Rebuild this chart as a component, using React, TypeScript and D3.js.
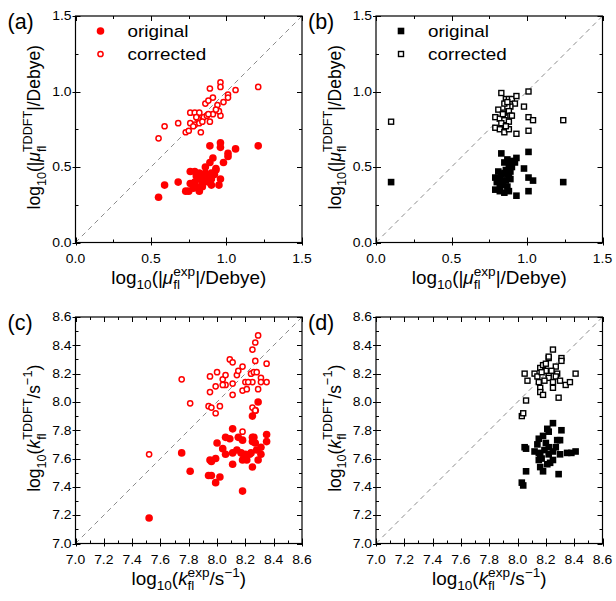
import React from "react";
import * as d3 from "d3";

// ---------- data ----------
// panel (a): transition dipole, circles
const aOrigX = [0.55,0.59,0.68,0.73,0.75,0.76,0.79,0.76,0.79,0.78,0.80,0.82,0.82,0.85,0.87,0.90,0.82,0.86,0.90,0.93,0.89,0.91,0.86,0.89,0.96,0.96,0.93,0.98,1.01,1.01,1.06,1.21,0.96,0.90,0.95,0.84,0.88,0.92,0.80,0.84];
const aOrigY = [0.30,0.38,0.40,0.34,0.34,0.47,0.47,0.39,0.40,0.36,0.37,0.34,0.42,0.43,0.44,0.42,0.46,0.46,0.46,0.48,0.64,0.56,0.50,0.53,0.66,0.63,0.49,0.53,0.59,0.57,0.62,0.64,0.42,0.38,0.38,0.39,0.40,0.45,0.44,0.37];
const aCorrX = [0.55,0.59,0.68,0.73,0.75,0.79,0.76,0.76,0.79,0.82,0.83,0.85,0.87,0.89,0.91,0.86,0.88,0.91,0.94,0.96,0.95,0.89,0.96,0.96,1.01,1.01,0.98,1.06,1.21,0.81,0.82,0.78,0.84,0.88,0.80,0.93];
const aCorrY = [0.69,0.77,0.79,0.73,0.74,0.78,0.79,0.86,0.86,0.86,0.73,0.83,0.84,0.80,0.85,0.92,0.94,0.96,0.91,0.84,0.87,1.02,1.06,1.03,0.98,0.96,0.93,1.01,1.03,0.82,0.79,0.77,0.80,0.85,0.83,0.88];

// panel (b): transition dipole, squares
const bOrigX = [0.10,1.24,0.83,1.01,0.93,0.90,0.87,0.85,0.88,0.92,0.98,0.81,0.85,0.87,0.89,0.79,0.82,0.86,0.89,1.01,1.04,0.79,0.82,0.85,0.88,0.93,1.01,0.80,0.84,0.87,0.83,0.90,0.86,0.82,0.88];
const bOrigY = [0.40,0.40,0.59,0.60,0.56,0.54,0.55,0.53,0.52,0.53,0.49,0.47,0.46,0.45,0.47,0.43,0.42,0.41,0.42,0.43,0.41,0.35,0.34,0.33,0.34,0.31,0.34,0.40,0.38,0.37,0.45,0.50,0.48,0.37,0.44];
const bCorrX = [0.10,1.24,0.83,1.01,0.86,0.88,0.90,0.93,0.92,0.89,0.87,0.85,0.98,0.81,0.85,0.88,0.89,0.79,0.82,0.85,0.88,0.90,1.01,1.04,0.79,0.82,0.85,0.88,0.93,1.01,0.83,0.86,0.84,0.87];
const bCorrY = [0.80,0.81,0.99,1.00,0.95,0.95,0.95,0.97,0.92,0.90,0.90,0.92,0.90,0.88,0.86,0.87,0.84,0.83,0.82,0.81,0.80,0.84,0.83,0.81,0.76,0.75,0.73,0.75,0.72,0.74,0.79,0.77,0.85,0.93];

// panel (c): fluorescence rate, circles
const cOrigX = [7.52,7.75,7.81,7.94,7.96,7.99,8.02,7.95,7.96,7.99,8.00,8.04,8.06,8.09,8.11,8.06,8.11,8.14,8.11,8.15,8.18,8.18,8.18,8.20,8.21,8.24,8.25,8.25,8.26,8.27,8.25,8.29,8.31,8.31,8.35,8.35,8.25,8.27,8.29,8.17,8.19,8.23,8.28];
const cOrigY = [7.18,7.64,7.51,7.48,7.48,7.43,7.47,7.59,7.58,7.60,7.71,7.67,7.75,7.74,7.81,7.63,7.64,7.66,7.56,7.75,7.73,7.37,7.59,7.63,7.59,7.64,7.54,7.75,7.75,7.71,7.72,7.59,7.63,7.68,7.77,7.72,7.90,7.94,8.00,7.64,7.61,7.63,7.66];
const cCorrX = [7.52,7.75,7.81,7.94,7.96,7.99,8.02,7.95,7.99,7.95,8.00,8.04,8.06,8.04,8.06,8.11,8.09,8.11,8.11,8.14,8.15,8.18,8.18,8.21,8.20,8.18,8.24,8.25,8.26,8.28,8.27,8.25,8.27,8.29,8.31,8.31,8.29,8.35,8.35,8.25,8.27,8.22];
const cCorrY = [7.63,8.16,7.99,7.97,7.96,7.92,7.97,8.07,8.11,8.18,8.21,8.16,8.12,8.12,8.19,8.13,8.30,8.28,8.05,8.19,8.22,8.25,8.08,8.09,8.14,7.79,8.20,8.14,8.21,8.21,8.29,8.37,8.42,8.47,8.17,8.14,8.09,8.27,8.14,7.96,7.94,8.14];

// panel (d): fluorescence rate, squares
const dOrigX = [8.03,8.04,8.06,8.05,8.06,8.12,8.15,8.15,8.15,8.16,8.18,8.18,8.21,8.22,8.25,8.22,8.22,8.25,8.25,8.23,8.27,8.28,8.30,8.31,8.29,8.30,8.35,8.38,8.41,8.17,8.19,8.14,8.20,8.16,8.21];
const dOrigY = [7.43,7.41,7.51,7.68,7.67,7.65,7.74,7.64,7.59,7.54,7.51,7.76,7.81,7.79,7.85,7.68,7.63,7.59,7.65,7.57,7.68,7.73,7.73,7.80,7.49,7.63,7.64,7.64,7.65,7.60,7.66,7.70,7.71,7.62,7.56];
const dCorrX = [8.03,8.04,8.06,8.05,8.07,8.12,8.14,8.15,8.16,8.16,8.18,8.16,8.18,8.20,8.22,8.22,8.25,8.22,8.22,8.25,8.25,8.27,8.28,8.27,8.30,8.29,8.31,8.31,8.34,8.37,8.41,8.19,8.20,8.17,8.24];
const dCorrY = [7.90,7.92,8.01,8.20,8.15,8.20,8.18,8.14,8.10,8.07,8.05,8.24,8.26,8.27,8.31,8.32,8.37,8.20,8.17,8.14,8.10,8.25,8.20,8.18,8.15,8.03,8.31,8.29,8.12,8.14,8.20,8.15,8.22,8.21,8.22];

const muTicks = [0.0, 0.5, 1.0, 1.5];
const kTicks = [7.0, 7.2, 7.4, 7.6, 7.8, 8.0, 8.2, 8.4, 8.6];
const legendLabels = ["original", "corrected"];
const panelLabels = ["(a)", "(b)", "(c)", "(d)"];

// ---------- style ----------
const FONT = "'Liberation Sans', Arial, Helvetica, sans-serif";
const TICK_K = 1.16;

type Series = { x: number[]; y: number[] };

function zip(s: Series) {
  return s.x.map((v, i) => [v, s.y[i]] as [number, number]);
}

function Title({ kind, axis, size }: { kind: "mu" | "k"; axis: "x" | "y"; size: number }) {
  const s = size * 0.72;
  const sub = size * 0.3;
  const sup = size * 0.45;
  const flW = s * 0.5; // width of "fl" in Arial
  const sp = axis === "x" ? "exp" : "TDDFT";
  if (kind === "mu") {
    return (
      <>
        <tspan>log</tspan>
        <tspan fontSize={s} dy={sub}>10</tspan>
        <tspan dy={-sub}>(|</tspan>
        <tspan fontStyle="italic">μ</tspan>
        <tspan fontSize={s} dy={sub}>fl</tspan>
        <tspan fontSize={s} dx={-flW} dy={-sub - sup}>{sp}</tspan>
        <tspan dy={sup}>|/Debye)</tspan>
      </>
    );
  }
  return (
    <>
      <tspan>log</tspan>
      <tspan fontSize={s} dy={sub}>10</tspan>
      <tspan dy={-sub}>(</tspan>
      <tspan fontStyle="italic">k</tspan>
      <tspan fontSize={s} dy={sub}>fl</tspan>
      <tspan fontSize={s} dx={-flW} dy={-sub - sup}>{sp}</tspan>
      <tspan dy={sup}>/s</tspan>
      <tspan fontSize={s} dy={-sup}>−1</tspan>
      <tspan dy={sup}>)</tspan>
    </>
  );
}

type PanelProps = {
  left: number;
  top: number;
  size: number;
  domain: [number, number];
  majors: number[];
  minorStep: number;
  orig: Series;
  corr: Series;
  marker: "circle" | "square";
  color: string;
  kind: "mu" | "k";
  label: string;
  showLegend: boolean;
  yTitleX: number;
  fmt: (v: number) => string;
};

function Panel(p: PanelProps) {
  const x = d3.scaleLinear().domain(p.domain).range([p.left, p.left + p.size]);
  const y = d3.scaleLinear().domain(p.domain).range([p.top + p.size, p.top]);
  const [d0, d1] = p.domain;
  const nMinor = Math.round((d1 - d0) / p.minorStep);
  const minors = d3.range(nMinor + 1).map((i) => d0 + i * p.minorStep);
  const isMajor = (v: number) => p.majors.some((m) => Math.abs(m - v) < 1e-6);
  const L = p.left, R = p.left + p.size, T = p.top, B = p.top + p.size;
  const clipId = "clip" + p.label.replace(/[()]/g, "");

  const mk = (pt: [number, number], i: number, filled: boolean) => {
    const cx = x(pt[0]), cy = y(pt[1]);
    if (p.marker === "circle") {
      return filled ? (
        <circle key={i} cx={cx} cy={cy} r={3.8} fill={p.color} />
      ) : (
        <circle key={i} cx={cx} cy={cy} r={2.6} fill="#fff" stroke={p.color} strokeWidth={1.5} />
      );
    }
    return filled ? (
      <rect key={i} x={cx - 3.3} y={cy - 3.3} width={6.6} height={6.6} fill={p.color} />
    ) : (
      <rect key={i} x={cx - 2.5} y={cy - 2.5} width={5} height={5} fill="#fff" stroke={p.color} strokeWidth={1.4} />
    );
  };

  const legendMarker = (cx: number, cy: number, filled: boolean) =>
    mk([x.invert(cx), y.invert(cy)], filled ? 0 : 1, filled);

  const centerX = (L + R) / 2;
  const centerY = (T + B) / 2;

  return (
    <g>
      <defs>
        <clipPath id={clipId}>
          <rect x={L} y={T} width={p.size} height={p.size} />
        </clipPath>
      </defs>
      {/* diagonal */}
      <line
        x1={x(d0)} y1={y(d0)} x2={x(d1)} y2={y(d1)}
        stroke="#8c8c8c" strokeWidth={1} strokeDasharray="5,4"
        clipPath={`url(#${clipId})`}
      />
      {/* points */}
      <g>{zip(p.orig).map((pt, i) => mk(pt, i, true))}</g>
      <g>{zip(p.corr).map((pt, i) => mk(pt, i, false))}</g>
      {/* ticks */}
      <g stroke="#000" strokeWidth={1}>
        {minors.map((v, i) => {
          const maj = isMajor(v);
          const len = maj ? 5 : 3;
          const out = maj ? 3 : 0;
          const xv = Math.round(x(v)) + 0.5, yv = Math.round(y(v)) + 0.5;
          return (
            <g key={i}>
              <line x1={xv} x2={xv} y1={B + out} y2={B - len} />
              <line x1={xv} x2={xv} y1={T} y2={T + len} />
              <line y1={yv} y2={yv} x1={L - out} x2={L + len} />
              <line y1={yv} y2={yv} x1={R} x2={R - len} />
            </g>
          );
        })}
      </g>
      <rect x={L} y={T} width={p.size} height={p.size} fill="none" stroke="#000" strokeWidth={1.2} />
      {/* tick labels */}
      <g fontFamily={FONT} fontSize={12} fill="#000">
        {p.majors.map((v, i) => (
          <text key={"x" + i} transform={`translate(${x(v)},${B + 20}) scale(${TICK_K},1)`} textAnchor="middle">
            {p.fmt(v)}
          </text>
        ))}
        {p.majors.map((v, i) => (
          <text key={"y" + i} transform={`translate(${L - 4},${y(v) + 4.3}) scale(${TICK_K},1)`} textAnchor="end">
            {p.fmt(v)}
          </text>
        ))}
      </g>
      {/* axis titles */}
      <text
        transform={`translate(${centerX},${B + 41}) scale(1.08,1)`}
        textAnchor="middle" fontFamily={FONT} fontSize={17.5} fill="#000"
      >
        <Title kind={p.kind} axis="x" size={17.5} />
      </text>
      <text
        transform={`translate(${p.yTitleX},${centerY - 2}) scale(1.08,1) rotate(-90)`}
        textAnchor="middle" fontFamily={FONT} fontSize={17.5} fill="#000"
      >
        <Title kind={p.kind} axis="y" size={17.5} />
      </text>
      {/* panel label */}
      <text x={L - 68} y={T + 12.5} fontFamily={FONT} fontSize={21.5} fill="#000">
        {p.label}
      </text>
      {/* legend */}
      {p.showLegend && (
        <g>
          {legendMarker(L + 25, T + 15, true)}
          {legendMarker(L + 25, T + 38, false)}
          <text transform={`translate(${L + 52},${T + 21}) scale(1.18,1)`} fontFamily={FONT} fontSize={16} fill="#000">
            {legendLabels[0]}
          </text>
          <text transform={`translate(${L + 52},${T + 44}) scale(1.18,1)`} fontFamily={FONT} fontSize={16} fill="#000">
            {legendLabels[1]}
          </text>
        </g>
      )}
    </g>
  );
}

export default function App() {
  const fmt = d3.format(".1f");
  const red = "#ff0000";
  const black = "#000000";
  return (
    <svg width={616} height={601} style={{ display: "block", position: "absolute", left: 0, top: 0 }}>
      <rect width={616} height={601} fill="#fff" />
      <Panel
        left={75.5} top={16} size={226.5} domain={[0, 1.5]} majors={muTicks} minorStep={0.25}
        orig={{ x: aOrigX, y: aOrigY }} corr={{ x: aCorrX, y: aCorrY }}
        marker="circle" color={red} kind="mu" label={panelLabels[0]} showLegend yTitleX={40} fmt={fmt}
      />
      <Panel
        left={376} top={16} size={226.5} domain={[0, 1.5]} majors={muTicks} minorStep={0.25}
        orig={{ x: bOrigX, y: bOrigY }} corr={{ x: bCorrX, y: bCorrY }}
        marker="square" color={black} kind="mu" label={panelLabels[1]} showLegend yTitleX={340.5} fmt={fmt}
      />
      <Panel
        left={75.5} top={317} size={226.5} domain={[7.0, 8.6]} majors={kTicks} minorStep={0.1}
        orig={{ x: cOrigX, y: cOrigY }} corr={{ x: cCorrX, y: cCorrY }}
        marker="circle" color={red} kind="k" label={panelLabels[2]} showLegend={false} yTitleX={40} fmt={fmt}
      />
      <Panel
        left={376} top={317} size={226.5} domain={[7.0, 8.6]} majors={kTicks} minorStep={0.1}
        orig={{ x: dOrigX, y: dOrigY }} corr={{ x: dCorrX, y: dCorrY }}
        marker="square" color={black} kind="k" label={panelLabels[3]} showLegend={false} yTitleX={340.5} fmt={fmt}
      />
    </svg>
  );
}
